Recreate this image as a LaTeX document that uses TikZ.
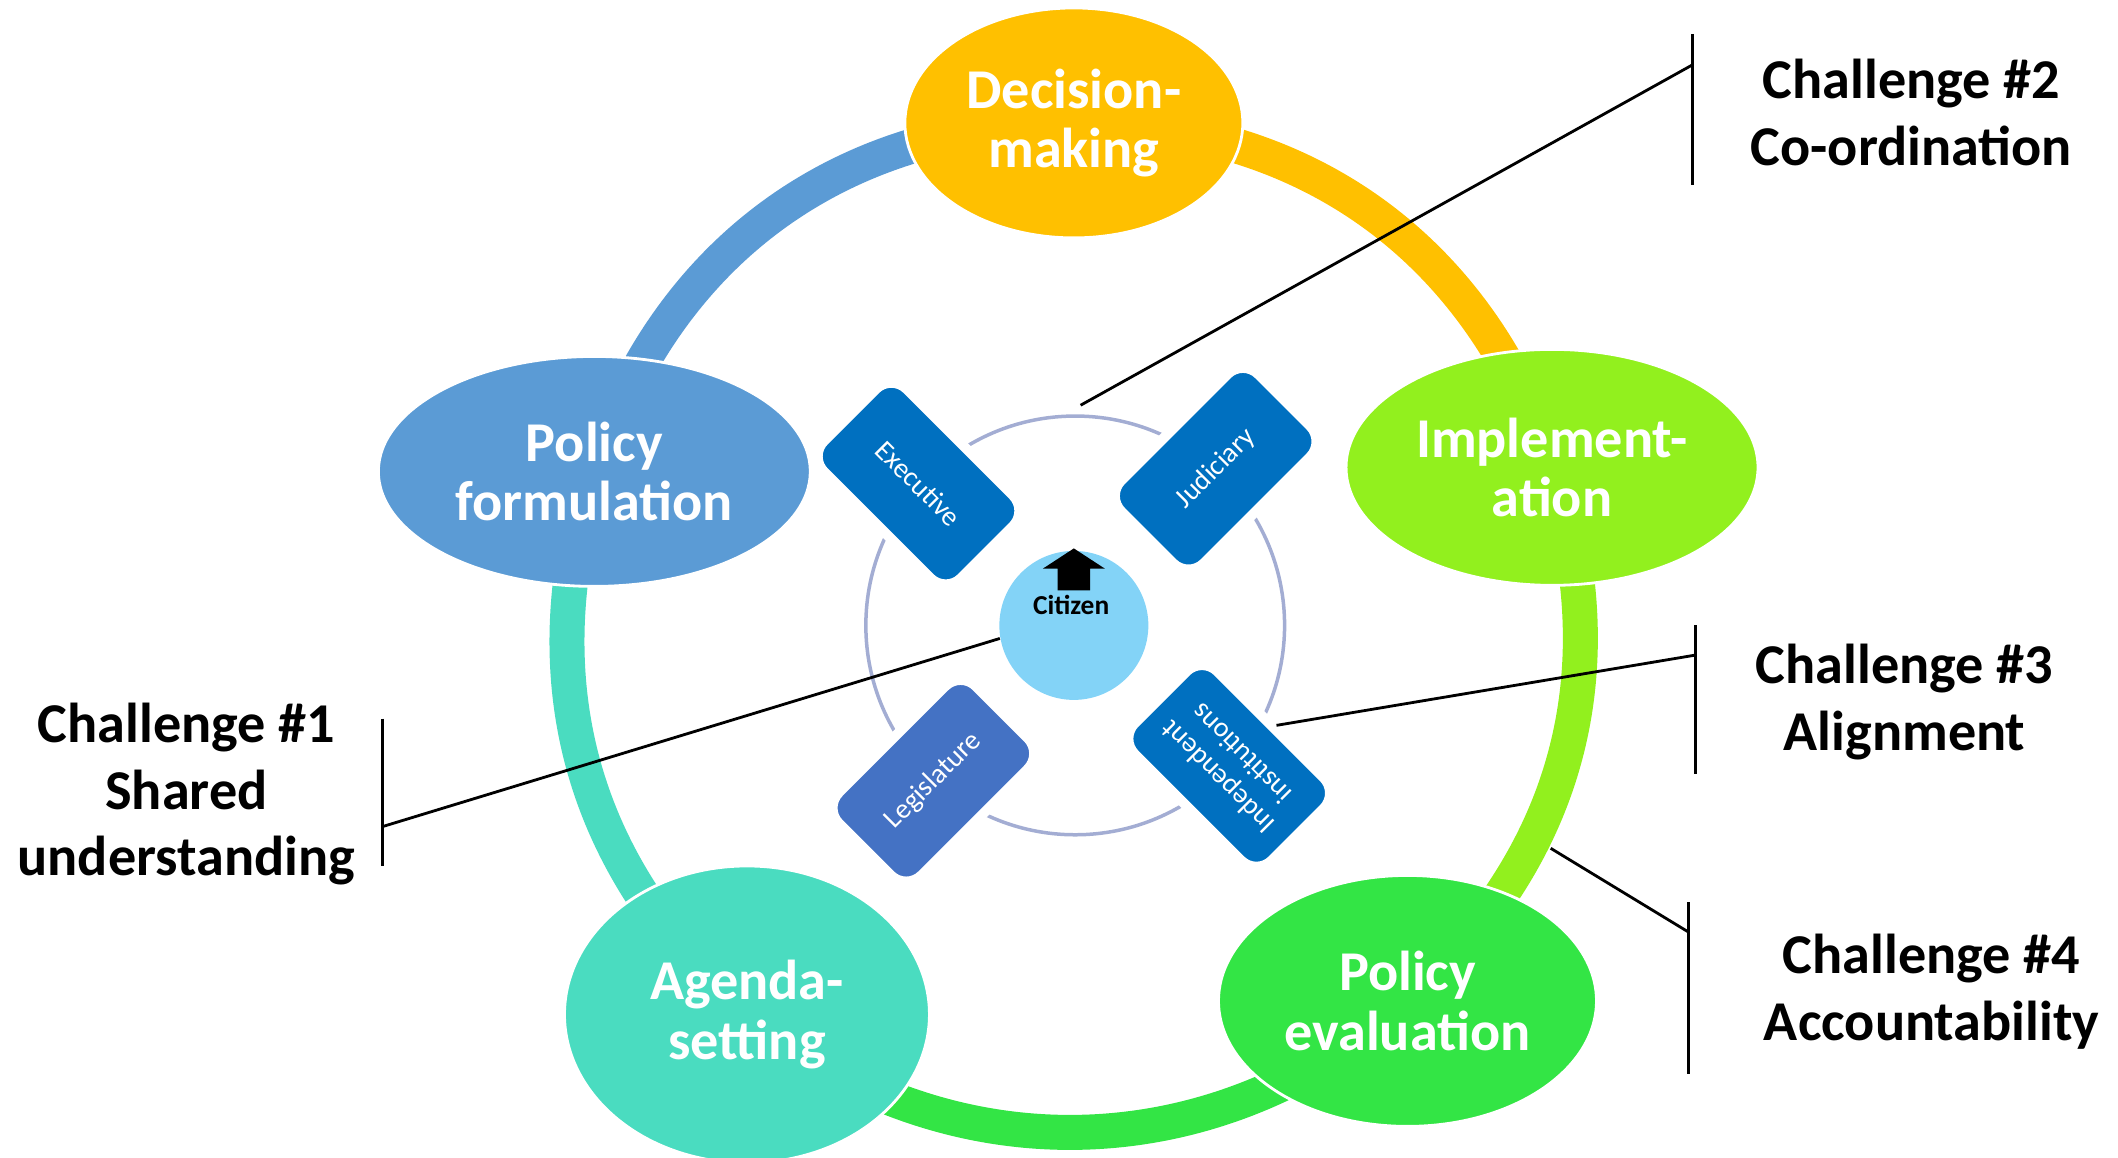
\documentclass[tikz,border=0pt]{standalone}
\usepackage{fontspec}
\setmainfont{Carlito}
\usetikzlibrary{shapes, positioning, calc, backgrounds}
\definecolor{dmgold}{HTML}{FFC000}
\definecolor{impllime}{HTML}{92F01E}
\definecolor{evalgreen}{HTML}{33E545}
\definecolor{agendateal}{HTML}{4ADCC0}
\definecolor{formblue}{HTML}{5B9BD5}
\definecolor{branchblue}{HTML}{0070C0}
\definecolor{legisblue}{HTML}{4472C4}
\definecolor{citizenblue}{HTML}{83D3F7}
\definecolor{hubline}{HTML}{A3ADD3}
\tikzset{
    stage/.style={
        ellipse,
        draw=white,
        line width=0.8pt,
        text=white,
        align=center,
        inner sep=0pt,
        font=\fontsize{16}{17}\selectfont\bfseries,
    },
    branch/.style={
        rectangle,
        rounded corners=2.2mm,
        draw=white,
        line width=1mm,
        fill=branchblue,
        text=white,
        align=center,
        minimum width=19.4mm,
        minimum height=11.7mm,
        font=\fontsize{8}{9.5}\selectfont,
    },
    ring/.style={line width=3.5mm},
    challenge/.style={align=center, font=\fontsize{16}{19}\selectfont\bfseries},
    leader/.style={line width=0.8pt},
}

\begin{document}
\begin{tikzpicture}[x=0.1351mm, y=-0.1351mm]
    \useasboundingbox (0,0) rectangle (1568,857);

    % policy cycle
    \node [stage, fill=dmgold, minimum width=33.8mm, minimum height=23mm] (dm) at (795,91) {Decision-\\making};
    \node [stage, fill=impllime, minimum width=41.2mm, minimum height=23.6mm] (impl) at (1149,346) {Implement-\\ation};
    \node [stage, fill=evalgreen, minimum width=37.8mm, minimum height=25.1mm] (eval) at (1042,741) {Policy\\evaluation};
    \node [stage, fill=agendateal, minimum width=36.5mm, minimum height=29.7mm] (agenda) at (553,751) {Agenda-\\setting};
    \node [stage, fill=formblue, minimum width=43.2mm, minimum height=23mm] (form) at (440,349) {Policy\\formulation};

    \begin{pgfonlayer}{background}
      \draw[ring, dmgold] (dm.center) to [bend left=36] (impl.center);
      \draw[ring, impllime] (impl.center) to [bend left=33] (eval.center);
      \draw[ring, evalgreen] (eval.center) to [bend left=40] (agenda.center);
      \draw[ring, agendateal] (agenda.center) to [bend left=33] (form.center);
      \draw[ring, formblue] (form.center) to [bend left=36] (dm.center);
    \end{pgfonlayer}

    % hub
    \coordinate (hub) at (796,463);
    \draw[hubline, line width=0.35mm] (hub) circle [radius=155];

    \node [branch, rotate=-45] (exec) at (680,358) {Executive};
    \node [branch, rotate=45] (jud) at (900,347) {Judiciary};
    \node [branch, rotate=45, fill=legisblue] (leg) at (691,578) {Legislature};
    \node [branch, rotate=135] (indep) at (910,567) {Independent\\institutions};

    \node [circle, fill=citizenblue, minimum size=14.9mm, inner sep=0pt] (cit) at (795,463) {};
    \fill (795,406) -- (818,421) -- (807,421) -- (807,437) -- (783,437) -- (783,421) -- (772,421) -- cycle;
    \node [font=\fontsize{7.8}{9}\selectfont\bfseries] (citlabel) at (793,448) {Citizen};

    % challenges
    \node [challenge] (ch1) at (138,588) {Challenge \#1\\Shared\\understanding};
    \node [challenge] (ch2) at (1415,83) {Challenge \#2\\Co-ordination};
    \node [challenge] (ch3) at (1410,520) {Challenge \#3\\Alignment};
    \node [challenge] (ch4) at (1430,734) {Challenge \#4\\Accountability};

    \coordinate (bar1a) at (283,532);
    \coordinate (bar1b) at (283,641);
    \coordinate (bar1m) at (283,612);
    \coordinate (bar2a) at (1253,25);
    \coordinate (bar2b) at (1253,137);
    \coordinate (bar2m) at (1253,48);
    \coordinate (bar3a) at (1255,463);
    \coordinate (bar3b) at (1255,573);
    \coordinate (bar3m) at (1255,485);
    \coordinate (bar4a) at (1250,668);
    \coordinate (bar4b) at (1250,795);
    \coordinate (bar4m) at (1250,690);
    \coordinate (hubtop) at (800,300);
    \coordinate (indepin) at (945,537);
    \coordinate (evalrim) at (1148,628);

    \draw[leader] (bar1a) -- (bar1b);
    \draw[leader] (bar2a) -- (bar2b);
    \draw[leader] (bar3a) -- (bar3b);
    \draw[leader] (bar4a) -- (bar4b);
    \draw[leader] (cit.190) -- (bar1m);
    \draw[leader] (hubtop) -- (bar2m);
    \draw[leader] (indepin) -- (bar3m);
    \draw[leader] (evalrim) -- (bar4m);
\end{tikzpicture}
\end{document}
